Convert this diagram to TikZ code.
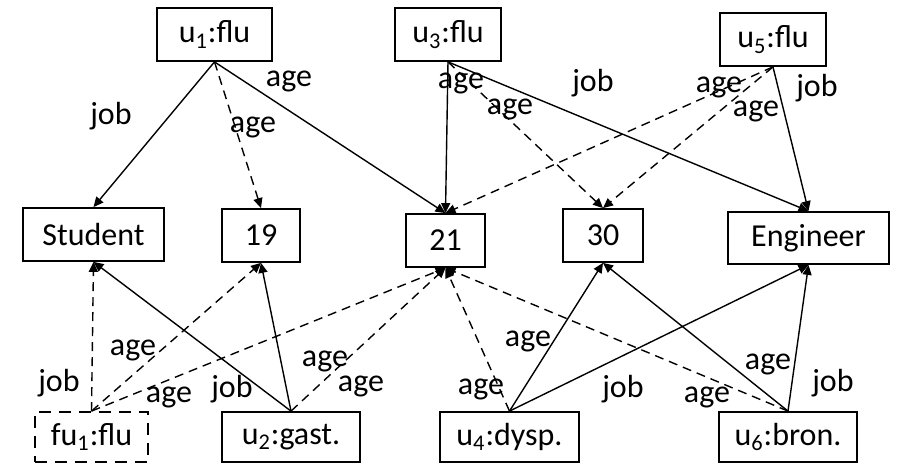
\documentclass[tikz,border=0pt]{standalone}
\usepackage{fontspec}
\setmainfont{Carlito}
\usetikzlibrary{arrows.meta}

\begin{document}
\begin{tikzpicture}[x=0.5pt, y=-0.5pt,
  box/.style={rectangle, draw, line width=0.9pt, inner sep=0pt,
    font=\fontsize{16}{19}\selectfont, minimum height=26.5pt},
  fuzzy/.style={box, dash pattern=on 6pt off 4pt, minimum height=25pt},
  lbl/.style={anchor=base, inner sep=0pt, font=\fontsize{16}{19}\selectfont},
  arrow/.style={-{Triangle[length=5pt, width=4.5pt]}, line width=0.7pt},
  darrow/.style={arrow, dash pattern=on 4.5pt off 3pt}
]
\useasboundingbox (0,0) rectangle (902,464);

% patients
\node[box, minimum width=57.5pt] (U1) at (214.5,34.5) {u\textsubscript{1}:flu};
\node[box, minimum width=53pt] (U3) at (448,34.5) {u\textsubscript{3}:flu};
\node[box, minimum width=53pt] (U5) at (773,39.5) {u\textsubscript{5}:flu};
\node[fuzzy, minimum width=56.5pt] (FU1) at (91.5,437) {fu\textsubscript{1}:flu};
\node[box, minimum width=69pt, minimum height=25pt] (U2) at (291,437) {u\textsubscript{2}:gast.};
\node[box, minimum width=69.5pt, minimum height=25pt] (U4) at (509.5,437) {u\textsubscript{4}:dysp.};
\node[box, minimum width=69pt, minimum height=25pt] (U6) at (788,437) {u\textsubscript{6}:bron.};

% values
\node[box, minimum width=70.5pt] (Stu) at (93.5,234.5) {Student};
\node[box, minimum width=39pt] (V19) at (261,235.5) {19};
\node[box, minimum width=39.5pt] (V21) at (445.5,240.5) {21};
\node[box, minimum width=40pt] (V30) at (603,235.5) {30};
\node[box, minimum width=80.5pt, minimum height=26pt] (Eng) at (808.5,238) {Engineer};

% edges from the top row
\draw[arrow] (U1.south) -- (Stu.north);
\draw[darrow] (U1.south) -- (V19.north);
\draw[arrow] (U1.south) -- (V21.north);
\draw[arrow] (U3.south) -- (V21.north);
\draw[darrow] (U3.south) -- (V30.north);
\draw[arrow] (U3.south) -- (Eng.north);
\draw[darrow] (U5.south) -- (V21.north);
\draw[darrow] (U5.south) -- (V30.north);
\draw[arrow] (U5.south) -- (Eng.north);

% edges from the bottom row
\draw[darrow] (FU1.north) -- (Stu.south);
\draw[darrow] (FU1.north) -- (V19.south);
\draw[darrow] (FU1.north) -- (V21.south);
\draw[arrow] (U2.north) -- (Stu.south);
\draw[arrow] (U2.north) -- (V19.south);
\draw[darrow] (U2.north) -- (V21.south);
\draw[darrow] (U4.north) -- (V21.south);
\draw[arrow] (U4.north) -- (V30.south);
\draw[arrow] (U4.north) -- (Eng.south);
\draw[darrow] (U6.north) -- (V21.south);
\draw[arrow] (U6.north) -- (V30.south);
\draw[arrow] (U6.north) -- (Eng.south);

% edge labels
\node[lbl] (a1) at (111,125) {job};
\node[lbl] (a2) at (253,133) {age};
\node[lbl] (a3) at (289,87) {age};
\node[lbl] (a4) at (461,89) {age};
\node[lbl] (a5) at (510,115) {age};
\node[lbl] (a6) at (593,92) {job};
\node[lbl] (a7) at (719,93) {age};
\node[lbl] (a8) at (756,117) {age};
\node[lbl] (a9) at (817,97) {job};
\node[lbl] (b1) at (59,392) {job};
\node[lbl] (b2) at (133,356) {age};
\node[lbl] (b3) at (169,403) {age};
\node[lbl] (b4) at (232,398) {job};
\node[lbl] (b5) at (325,367) {age};
\node[lbl] (b6) at (361,392) {age};
\node[lbl] (b7) at (481,395) {age};
\node[lbl] (b8) at (528,347) {age};
\node[lbl] (b9) at (623,398) {job};
\node[lbl] (c1) at (707,403) {age};
\node[lbl] (c2) at (768,370) {age};
\node[lbl] (c3) at (833,392) {job};
\end{tikzpicture}
\end{document}
